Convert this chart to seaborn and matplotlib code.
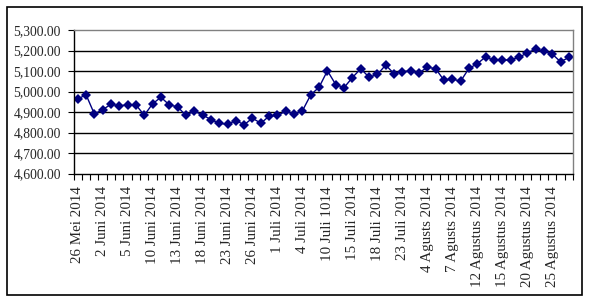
import numpy as np
import pandas as pd
import matplotlib
matplotlib.use("Agg")
import matplotlib.pyplot as plt
from matplotlib.patches import Rectangle
from matplotlib.ticker import FixedLocator
import seaborn as sns

sns.set_style("white")
plt.rcParams['font.family'] = ['Liberation Serif', 'DejaVu Serif']

# tanggal perdagangan (26 Mei - 27 Agustus 2014)
tanggal = ['26 Mei', '28 Mei', '30 Mei', '2 Jun', '3 Jun', '4 Jun', '5 Jun', '6 Jun',
           '9 Jun', '10 Jun', '11 Jun', '12 Jun', '13 Jun', '16 Jun', '17 Jun', '18 Jun',
           '19 Jun', '20 Jun', '23 Jun', '24 Jun', '25 Jun', '26 Jun', '27 Jun', '30 Jun',
           '1 Jul', '2 Jul', '3 Jul', '4 Jul', '7 Jul', '8 Jul', '10 Jul', '11 Jul',
           '14 Jul', '15 Jul', '16 Jul', '17 Jul', '18 Jul', '21 Jul', '22 Jul', '23 Jul',
           '24 Jul', '25 Jul', '4 Agu', '5 Agu', '6 Agu', '7 Agu', '8 Agu', '11 Agu',
           '12 Agu', '13 Agu', '14 Agu', '15 Agu', '18 Agu', '19 Agu', '20 Agu', '21 Agu',
           '22 Agu', '25 Agu', '26 Agu', '27 Agu']

nilai = [4962, 4985, 4891, 4911, 4938, 4930, 4935, 4935, 4884, 4940,
         4972, 4935, 4925, 4884, 4904, 4886, 4863, 4845, 4840, 4858,
         4838, 4870, 4845, 4880, 4883, 4904, 4889, 4906, 4984, 5021,
         5101, 5034, 5019, 5068, 5111, 5070, 5083, 5129, 5087, 5097,
         5100, 5090, 5119, 5111, 5055, 5061, 5050, 5113, 5135, 5169,
         5152, 5152, 5155, 5166, 5189, 5206, 5196, 5183, 5145, 5166]

label_x = ['26 Mei 2014', '2 Juni 2014', '5 Juni 2014', '10 Juni 2014', '13 Juni 2014',
           '18 Juni 2014', '23 Juni 2014', '26 Juni 2014', '1 Juli 2014', '4 Juli 2014',
           '10 Juli 1014', '15 Juli 2014', '18 Juli 2014', '23 Juli 2014', '4 Agusts 2014',
           '7 Agusts 2014', '12 Agustus 2014', '15 Agustus 2014', '20 Agustus 2014',
           '25 Agustus 2014']

y_ticks = [4600, 4700, 4800, 4900, 5000, 5100, 5200, 5300]

df = pd.DataFrame({'tanggal': tanggal, 'nilai': nilai})
df['pos'] = np.arange(len(df))

fig = plt.figure(figsize=(5.89, 3.07), dpi=100)
fig.patches.append(Rectangle((7 / 589, 12 / 307), 575 / 589, 288 / 307,
                             transform=fig.transFigure, fill=False,
                             edgecolor='black', linewidth=1.2))
ax = fig.add_axes([73.5 / 589, 1 - 173.5 / 307, 499.5 / 589, 143.5 / 307])

sns.lineplot(data=df, x='pos', y='nilai', ax=ax, color='#000080', linewidth=1,
             marker='D', markersize=5, markeredgewidth=0, markerfacecolor='#000080')

ax.set_xlim(-0.5, len(df) - 0.5)
ax.set_ylim(4600, 5300)
ax.set_yticks(y_ticks)
ax.set_yticklabels([f'{v:,.2f}' for v in y_ticks], fontsize=9.8)
for v in y_ticks[1:-1]:
    ax.axhline(v, color='black', linewidth=1, zorder=1)

ax.set_xticks(df['pos'][::3])
ax.set_xticklabels(label_x, rotation=90, fontsize=10.8, va='top', ha='center')
ax.xaxis.set_minor_locator(FixedLocator(np.arange(-0.5, len(df), 1)))
ax.tick_params(axis='x', which='major', length=0, pad=9)
ax.tick_params(axis='x', which='minor', length=4, width=0.8, direction='out',
               color='black', bottom=True)
ax.tick_params(axis='y', which='major', length=4, width=0.8, direction='out',
               color='black', left=True, pad=5)

ax.set_xlabel('')
ax.set_ylabel('')
for side in ['left', 'bottom']:
    ax.spines[side].set_color('black')
    ax.spines[side].set_linewidth(1)
for side in ['top', 'right']:
    ax.spines[side].set_color('#808080')
    ax.spines[side].set_linewidth(1)

plt.savefig('out.png', dpi=100)
